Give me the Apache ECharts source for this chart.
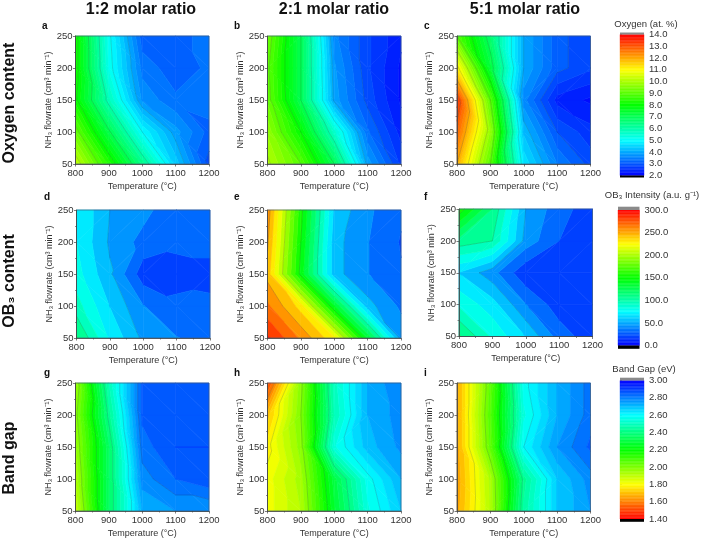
<!DOCTYPE html>
<html><head><meta charset="utf-8">
<style>html,body{margin:0;padding:0;background:#fff}#c{width:703px;height:540px}</style>
<script src="https://cdn.jsdelivr.net/npm/echarts@6/dist/echarts.min.js"></script>
</head><body><div id="c"></div>
<script>
const temperatures = [800, 900, 1000, 1100, 1200];
const flowrates = [50, 100, 150, 200, 250];
const columnTitles = ['1:2 molar ratio', '2:1 molar ratio', '5:1 molar ratio'];
const rowTitles = ['Oxygen content', 'OB\u2083 content', 'Band gap'];
const panelLetters = ['a','b','c','d','e','f','g','h','i'];

// rows run from flowrate 50 up to 250, columns from 800 to 1200 degC
const oxygen12 = [
  [10.3, 8.4, 6.4, 4.4, 2.9],
  [9.2, 7.1, 5.0, 3.85, 3.15],
  [8.1, 5.8, 3.7, 3.3, 3.4],
  [8.2, 5.2, 3.4, 3.1, 3.3],
  [8.2, 5.1, 3.1, 3.2, 3.3]];
const oxygen21 = [
  [10.1, 9.0, 7.0, 3.9, 2.7],
  [9.7, 8.0, 5.6, 3.3, 2.4],
  [9.2, 7.0, 3.9, 2.9, 2.2],
  [9.1, 7.0, 3.8, 2.8, 2.2],
  [9.3, 7.0, 3.6, 2.8, 2.3]];
const oxygen51 = [
  [12.0, 9.0, 4.7, 3.5, 2.9],
  [12.8, 9.7, 4.2, 3.0, 2.6],
  [13.4, 9.0, 3.6, 2.4, 2.2],
  [11.2, 7.3, 4.0, 3.1, 2.8],
  [9.0, 6.7, 4.0, 3.1, 2.8]];
const ob3_12 = [
  [115, 73, 47, 38, 33],
  [93, 62, 38, 28, 27],
  [80, 52, 18, 20, 22],
  [75, 48, 33, 28, 28],
  [75, 50, 42, 27, 30]];
const ob3_21 = [
  [290, 260, 228, 135, 45],
  [265, 232, 138, 55, 35],
  [245, 145, 55, 38, 26],
  [252, 150, 55, 38, 24],
  [258, 155, 60, 40, 27]];
const ob3_51 = [
  [115, 85, 62, 32, 17],
  [85, 68, 38, 18, 14],
  [62, 42, 15, 13, 13],
  [108, 100, 45, 25, 17],
  [158, 112, 50, 30, 18]];
const gap12 = [
  [1.88, 2.35, 2.72, 2.76, 2.76],
  [1.92, 2.35, 2.78, 2.84, 2.87],
  [1.95, 2.35, 2.82, 2.88, 2.88],
  [1.98, 2.42, 2.85, 2.87, 2.86],
  [1.95, 2.48, 2.85, 2.87, 2.85]];
const gap21 = [
  [1.82, 1.92, 2.27, 2.55, 2.68],
  [1.82, 1.94, 2.3, 2.58, 2.72],
  [1.78, 1.98, 2.55, 2.7, 2.77],
  [1.7, 2.0, 2.48, 2.72, 2.78],
  [1.5, 1.98, 2.5, 2.72, 2.8]];
const gap51 = [
  [1.66, 1.92, 2.45, 2.68, 2.76],
  [1.65, 1.93, 2.42, 2.68, 2.78],
  [1.66, 2.05, 2.6, 2.76, 2.85],
  [1.66, 2.07, 2.55, 2.72, 2.82],
  [1.66, 2.05, 2.58, 2.72, 2.82]];
const panelValues = [oxygen12, oxygen21, oxygen51, ob3_12, ob3_21, ob3_51, gap12, gap21, gap51];

const oxygenTicks = [2, 14, 1];
const ob3Ticks = [0, 300, 50];
const gapTicks = [1.4, 3.0, 0.2];
const scaleTitles = ['Oxygen (at. %)', 'OB\u2083 Intensity (a.u. g\u207B\u00B9)', 'Band Gap (eV)'];

// styling and layout
const FONT = '"Liberation Sans", Arial, sans-serif';
const TXT = '#333';
const scales = [
  {ticks: oxygenTicks, rev: false, dec: 1, lines: 1, bands: 48, box: [620, 34.5, 24, 141], cap: [2, 2], titleXY: [646, 24]},
  {ticks: ob3Ticks, rev: false, dec: 1, lines: 50, bands: 24, box: [618, 210, 21.5, 135.5], cap: [3.3, 3.3], titleXY: [652, 195]},
  {ticks: gapTicks, rev: true, dec: 2, lines: 0.2, bands: 40, box: [620, 380.5, 24, 138.5], cap: [2.8, 2.8], titleXY: [644, 369]}
];
const panelBoxes = [
  [75.5, 36, 133.5, 128], [267.5, 36, 133.5, 128], [457, 36, 133.5, 128],
  [76.5, 210, 133.5, 128], [267.5, 210, 133.5, 128], [459, 209, 133.5, 127.5],
  [75.5, 383, 133.5, 128], [267.5, 383, 133.5, 128], [457, 383, 133.5, 128]
];
const letterXY = [[45,27],[237,27],[427,27],[47,198],[237,198],[427,198],[47,374],[237,374],[427,374]];
const STOPS = [[0,0,255],[0,255,255],[0,255,0],[255,255,0],[255,0,0]];
function ramp(t) {
  t = Math.max(0, Math.min(1, t)) * 4;
  const i = Math.min(3, Math.floor(t)), f = t - i, a = STOPS[i], b = STOPS[i + 1];
  return 'rgb(' + a.map((c, k) => Math.round(c + (b[k] - c) * f)).join(',') + ')';
}
function colorOf(s, v) {
  const t = (v - s.ticks[0]) / (s.ticks[1] - s.ticks[0]);
  return ramp(s.rev ? 1 - t : t);
}
function clipHalf(poly, level, keepAbove) {
  const out = [];
  for (let i = 0; i < poly.length; i++) {
    const p = poly[i], q = poly[(i + 1) % poly.length];
    const pin = keepAbove ? p[2] >= level : p[2] <= level;
    const qin = keepAbove ? q[2] >= level : q[2] <= level;
    if (pin) out.push(p);
    if (pin !== qin) {
      const f = (level - p[2]) / (q[2] - p[2]);
      out.push([p[0] + (q[0] - p[0]) * f, p[1] + (q[1] - p[1]) * f, level]);
    }
  }
  return out;
}
function trianglesOf(api) {
  const x0 = api.value(0), x1 = api.value(1), y0 = api.value(2), y1 = api.value(3);
  const a = api.value(4), b = api.value(5), c = api.value(6), d = api.value(7);
  const P = (x, y, v) => { const q = api.coord([x, y]); return [q[0], q[1], v]; };
  const A = P(x0, y0, a), B = P(x1, y0, b), C = P(x1, y1, d), D = P(x0, y1, c);
  // split each cell along the diagonal whose two corners agree best
  return Math.abs(a - d) < Math.abs(b - c) ? [[A, B, C], [A, C, D]] : [[A, B, D], [B, C, D]];
}
function fillItem(s) {
  const lo = s.ticks[0], step = (s.ticks[1] - s.ticks[0]) / s.bands;
  return function (params, api) {
    const children = [];
    trianglesOf(api).forEach(tri => {
      const vs = tri.map(p => p[2]);
      const kmin = Math.floor((Math.min(...vs) - lo) / step), kmax = Math.floor((Math.max(...vs) - lo) / step);
      for (let k = kmin; k <= kmax; k++) {
        const l = lo + k * step, h = l + step;
        let poly = clipHalf(tri, l, true);
        if (poly.length) poly = clipHalf(poly, h, false);
        if (poly.length < 3) continue;
        const col = colorOf(s, l + step / 2);
        children.push({type: 'polygon', shape: {points: poly.map(p => [p[0], p[1]])},
          style: {fill: col, stroke: col, lineWidth: 0.6}, silent: true});
      }
    });
    return {type: 'group', children};
  };
}
function lineItem(s) {
  const lo = s.ticks[0], step = s.lines;
  return function (params, api) {
    const children = [];
    trianglesOf(api).forEach(tri => {
      const vs = tri.map(p => p[2]);
      const kmin = Math.ceil((Math.min(...vs) - lo) / step), kmax = Math.floor((Math.max(...vs) - lo) / step);
      for (let k = kmin; k <= kmax; k++) {
        const l = lo + k * step, pts = [];
        for (let i = 0; i < 3; i++) {
          const p = tri[i], q = tri[(i + 1) % 3];
          if ((p[2] < l) !== (q[2] < l)) {
            const f = (l - p[2]) / (q[2] - p[2]);
            pts.push([p[0] + (q[0] - p[0]) * f, p[1] + (q[1] - p[1]) * f]);
          }
        }
        if (pts.length === 2) children.push({type: 'line',
          shape: {x1: pts[0][0], y1: pts[0][1], x2: pts[1][0], y2: pts[1][1]},
          style: {stroke: 'rgba(30,50,50,0.3)', lineWidth: 0.6}, silent: true});
      }
    });
    return {type: 'group', children};
  };
}

const grid = [], xAxis = [], yAxis = [], series = [], graphic = [];
const axisText = {color: TXT, fontFamily: FONT, fontSize: 9.5};
panelBoxes.forEach((b, n) => {
  const s = scales[Math.floor(n / 3)], vals = panelValues[n];
  grid.push({left: b[0], top: b[1], width: b[2], height: b[3], show: true, borderColor: '#3f5a78', borderWidth: 0.7, backgroundColor: 'transparent', z: 8});
  const line = {show: true, lineStyle: {color: '#444', width: 0.8}};
  xAxis.push({gridIndex: n, type: 'value', min: 800, max: 1200, interval: 100, z: 9,
    name: 'Temperature (\u00B0C)', nameLocation: 'middle', nameGap: 18,
    nameTextStyle: {color: TXT, fontFamily: FONT, fontSize: 9},
    axisLine: line, splitLine: {show: false},
    axisTick: {show: true, length: 2.5, lineStyle: {color: '#444', width: 0.7}},
    minorTick: {show: true, splitNumber: 2, length: 1.5, lineStyle: {color: '#444', width: 0.6}},
    axisLabel: Object.assign({margin: 4, showMinLabel: true, showMaxLabel: true, formatter: v => String(v)}, axisText)});
  yAxis.push({gridIndex: n, type: 'value', min: 50, max: 250, interval: 50, z: 9,
    name: 'NH\u2083 flowrate (cm\u00B3 min\u207B\u00B9)', nameLocation: 'middle', nameGap: 20,
    nameTextStyle: {color: TXT, fontFamily: FONT, fontSize: 9},
    axisLine: line, splitLine: {show: false},
    axisTick: {show: true, length: 2.5, lineStyle: {color: '#444', width: 0.7}},
    minorTick: {show: true, splitNumber: 2, length: 1.5, lineStyle: {color: '#444', width: 0.6}},
    axisLabel: Object.assign({margin: 3, showMinLabel: true, showMaxLabel: true}, axisText)});
  const cells = [];
  for (let j = 0; j < flowrates.length - 1; j++) for (let i = 0; i < temperatures.length - 1; i++)
    cells.push([temperatures[i], temperatures[i + 1], flowrates[j], flowrates[j + 1],
      vals[j][i], vals[j][i + 1], vals[j + 1][i], vals[j + 1][i + 1]]);
  const enc = {x: [0, 1], y: [2, 3]};
  series.push({type: 'custom', xAxisIndex: n, yAxisIndex: n, data: cells, encode: enc, renderItem: fillItem(s), z: 2, silent: true, animation: false, clip: false});
  series.push({type: 'custom', xAxisIndex: n, yAxisIndex: n, data: cells, encode: enc, renderItem: lineItem(s), z: 3, silent: true, animation: false, clip: true});
  graphic.push({type: 'text', left: letterXY[n][0] - 3, top: letterXY[n][1] - 6,
    style: {text: panelLetters[n], font: 'bold 10px ' + FONT, fill: '#111'}});
});

// colour scales
scales.forEach((s, n) => {
  const g = panelBoxes.length + n, b = s.box, lo = s.ticks[0], hi = s.ticks[1], inc = s.ticks[2];
  grid.push({left: b[0], top: b[1], width: b[2], height: b[3], show: false});
  xAxis.push({gridIndex: g, type: 'value', min: 0, max: 1, show: false});
  yAxis.push({gridIndex: g, type: 'value', position: 'right', min: lo, max: hi, interval: inc,
    axisLine: {show: false}, splitLine: {show: false},
    axisTick: {show: true, length: 2, lineStyle: {color: '#555', width: 0.7}},
    axisLabel: {margin: 5, color: TXT, fontFamily: FONT, fontSize: 9.5, showMinLabel: true, showMaxLabel: true,
      formatter: v => v.toFixed(s.dec)}});
  const steps = [];
  for (let k = 0; k < 96; k++) steps.push(lo + (hi - lo) * k / 96);
  const dv = (hi - lo) / 96;
  series.push({type: 'custom', xAxisIndex: g, yAxisIndex: g, data: steps.map(v => [0, v]), encode: {x: 0, y: 1},
    silent: true, animation: false, clip: false,
    renderItem: (p, api) => {
      const v = api.value(1), a = api.coord([0, v]), c = api.coord([1, v + dv]);
      const col = colorOf(s, v + dv / 2);
      return {type: 'rect', shape: {x: a[0], y: c[1], width: c[0] - a[0], height: a[1] - c[1]},
        style: {fill: col, stroke: col, lineWidth: 0.4}, silent: true};
    }});
  series.push({type: 'custom', xAxisIndex: g, yAxisIndex: g, data: [[0, hi, 1], [0, lo, -1]], encode: {x: 0, y: 1},
    silent: true, animation: false, clip: false,
    renderItem: (p, api) => {
      const up = api.value(2) > 0, a = api.coord([0, api.value(1)]), c = api.coord([1, api.value(1)]);
      const h = s.cap[up ? 0 : 1];
      return {type: 'rect', shape: {x: a[0], y: up ? a[1] - h : a[1], width: c[0] - a[0], height: h},
        style: {fill: up ? '#8a8a8a' : '#000'}, silent: true};
    }});
  graphic.push({type: 'text', x: s.titleXY[0], y: s.titleXY[1],
    style: {text: scaleTitles[n], font: '9.5px ' + FONT, fill: TXT, align: 'center', verticalAlign: 'middle'}});
});

columnTitles.forEach((t, i) => graphic.push({type: 'text', x: [141, 334, 525][i], y: 10,
  style: {text: t, font: 'bold 16px ' + FONT, fill: '#111', align: 'center', verticalAlign: 'middle'}}));
rowTitles.forEach((t, i) => graphic.push({type: 'text', x: 10, y: [103, 281, 458][i], rotation: Math.PI / 2,
  style: {text: t, font: 'bold 16px ' + FONT, fill: '#111', align: 'center', verticalAlign: 'middle'}}));

const chart = echarts.init(document.getElementById('c'), null, {renderer: 'canvas'});
chart.setOption({animation: false, backgroundColor: '#fff', grid, xAxis, yAxis, series, graphic});
</script></body></html>
